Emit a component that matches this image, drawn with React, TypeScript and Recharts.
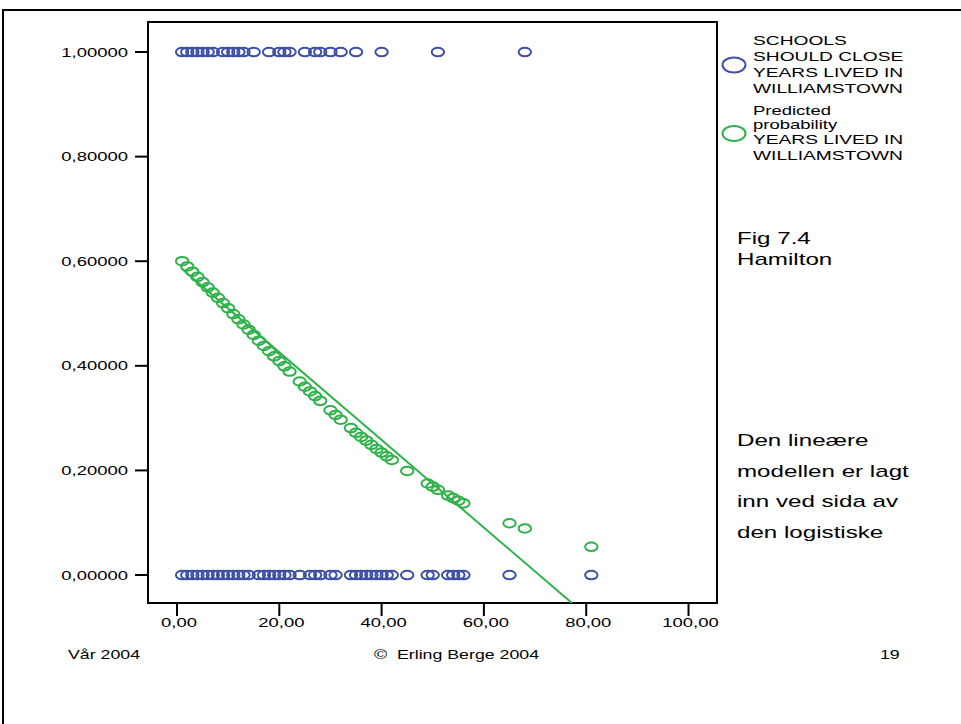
import React from 'react'
import { ScatterChart, Scatter, XAxis, YAxis, ReferenceArea } from 'recharts'

// years lived in Williamstown for respondents who said schools should close (1) / not close (0)
const closeYears = [1, 2, 3, 4, 5, 6, 7, 9, 10, 11, 12, 13, 15, 18, 20, 21, 22, 25, 27, 28, 30, 32, 35, 40, 51, 68]
const openYears = [1, 2, 3, 4, 5, 6, 7, 8, 9, 10, 11, 12, 13, 14, 16, 17, 18, 19, 20, 21, 22, 24, 26, 27, 28, 30, 31, 34, 35, 36, 37, 38, 39, 40, 41, 42, 45, 49, 50, 53, 54, 55, 56, 65, 81]

// predicted probability from the logistic model
const predYears = [1, 2, 3, 4, 5, 6, 7, 8, 9, 10, 11, 12, 13, 14, 15, 16, 17, 18, 19, 20, 21, 22, 24, 25, 26, 27, 28, 30, 31, 32, 34, 35, 36, 37, 38, 39, 40, 41, 42, 45, 49, 50, 51, 53, 54, 55, 56, 65, 68, 81]
const predProb = [0.600, 0.590, 0.580, 0.570, 0.560, 0.550, 0.540, 0.530, 0.520, 0.510, 0.499, 0.489, 0.479, 0.469, 0.459, 0.448, 0.438, 0.428, 0.418, 0.409, 0.399, 0.389, 0.370, 0.360, 0.351, 0.342, 0.333, 0.315, 0.306, 0.297, 0.281, 0.272, 0.264, 0.257, 0.249, 0.241, 0.234, 0.227, 0.220, 0.199, 0.175, 0.169, 0.163, 0.152, 0.147, 0.142, 0.137, 0.099, 0.089, 0.054]

// linear model drawn alongside
const linYears = [1, 77.2]
const linValues = [0.585, -0.0535]

const xTicks = [0, 20, 40, 60, 80, 100]
const yTicks = [0, 0.2, 0.4, 0.6, 0.8, 1]

const BLUE = '#3d4fa6'
const GREEN = '#2fb24a'
const STRETCH = 1.42
const FONT = '"Liberation Sans", Arial, sans-serif'

const closeData = closeYears.map(x => ({ x, y: 1 }))
const openData = openYears.map(x => ({ x, y: 0 }))
const predData = predYears.map((x, i) => ({ x, y: predProb[i] }))
const linData = linYears.map((x, i) => ({ x, y: linValues[i] }))

const comma = (v: number, d: number) => v.toFixed(d).replace('.', ',')

const ring = (color: string) => (p: any) =>
    <ellipse cx={p.cx} cy={p.cy} rx={6.2} ry={4.3} fill="none" stroke={color} strokeWidth={2} />

const YTick = (p: any) => (
    <g transform={`translate(${p.x},${p.y})`}>
        <text transform={`scale(${STRETCH},1)`} textAnchor="end" dy="0.35em" fontSize={13} fontFamily={FONT} fill="#000">
            {comma(p.payload.value, 5)}
        </text>
    </g>
)

const XTick = (p: any) => (
    <g transform={`translate(${p.x + 2},${p.y})`}>
        <text transform={`scale(${STRETCH},1)`} textAnchor="middle" dy="0.71em" fontSize={13} fontFamily={FONT} fill="#000">
            {comma(p.payload.value, 2)}
        </text>
    </g>
)

const Stretched = ({ left, top, size, lh, children }: any) => (
    <div style={{
        position: 'absolute', left, top, fontSize: size, lineHeight: lh + 'px', fontFamily: FONT,
        transform: `scaleX(${STRETCH})`, transformOrigin: 'left top', whiteSpace: 'nowrap', color: '#000'
    }}>{children}</div>
)

const LegendBox = () => (
    <div style={{ position: 'absolute', left: 720, top: 30, width: 240, height: 150 }}>
        <svg width={40} height={150} style={{ position: 'absolute', left: 0, top: 0 }}>
            <ellipse cx={14} cy={35} rx={11.5} ry={7.5} fill="none" stroke={BLUE} strokeWidth={2} />
            <ellipse cx={14} cy={103.5} rx={11.5} ry={7.5} fill="none" stroke={GREEN} strokeWidth={2} />
        </svg>
        <Stretched left={33} top={3.4} size={13.5} lh={16}>
            SCHOOLS<br />SHOULD CLOSE<br />YEARS LIVED IN<br />WILLIAMSTOWN
        </Stretched>
        <Stretched left={33} top={73.8} size={13} lh={14}>
            Predicted<br />probability
        </Stretched>
        <Stretched left={33} top={102.4} size={13.5} lh={16}>
            YEARS LIVED IN<br />WILLIAMSTOWN
        </Stretched>
    </div>
)

export default function App()
{
    return (
        <div style={{ position: 'absolute', left: 0, top: 0, width: 961, height: 724, background: '#fff', overflow: 'hidden' }}>
            <div style={{ position: 'absolute', left: 2, top: 9, width: 1000, height: 1000, border: '2px solid #000', boxSizing: 'border-box' }} />
            <ScatterChart width={961} height={724} margin={{ top: 22, right: 244, bottom: 81, left: 48 }}>
                <XAxis type="number" dataKey="x" domain={[-5.67, 105.57]} ticks={xTicks} allowDataOverflow
                    tick={<XTick />} tickSize={13} tickMargin={2} height={40}
                    axisLine={{ stroke: '#000', strokeWidth: 2 }} tickLine={{ stroke: '#000', strokeWidth: 2 }} />
                <YAxis type="number" dataKey="y" domain={[-0.0535, 1.0574]} ticks={yTicks} allowDataOverflow
                    tick={<YTick />} tickSize={13} tickMargin={7} width={100}
                    axisLine={{ stroke: '#000', strokeWidth: 2 }} tickLine={{ stroke: '#000', strokeWidth: 2 }} />
                <ReferenceArea x1={-5.67} x2={105.57} y1={-0.0535} y2={1.0574} fill="none" stroke="#000" strokeWidth={2} />
                <Scatter name="SCHOOLS SHOULD CLOSE" data={closeData} shape={ring(BLUE)} isAnimationActive={false} />
                <Scatter name="SCHOOLS SHOULD CLOSE 0" data={openData} shape={ring(BLUE)} isAnimationActive={false} />
                <Scatter name="Linear" data={linData} line={{ stroke: GREEN, strokeWidth: 2 }} shape={() => <g />} isAnimationActive={false} />
                <Scatter name="Predicted probability" data={predData} shape={ring(GREEN)} isAnimationActive={false} />
            </ScatterChart>
            <LegendBox />
            <Stretched left={737} top={228} size={17} lh={21}>Fig 7.4<br />Hamilton</Stretched>
            <Stretched left={737} top={426} size={17} lh={30.5}>
                Den lineære<br />modellen er lagt<br />inn ved sida av<br />den logistiske
            </Stretched>
            <Stretched left={68} top={647} size={12.5} lh={16}>Vår 2004</Stretched>
            <Stretched left={374} top={647} size={12.5} lh={16}>©&nbsp; Erling Berge 2004</Stretched>
            <Stretched left={880} top={647} size={12.5} lh={16}>19</Stretched>
        </div>
    )
}
